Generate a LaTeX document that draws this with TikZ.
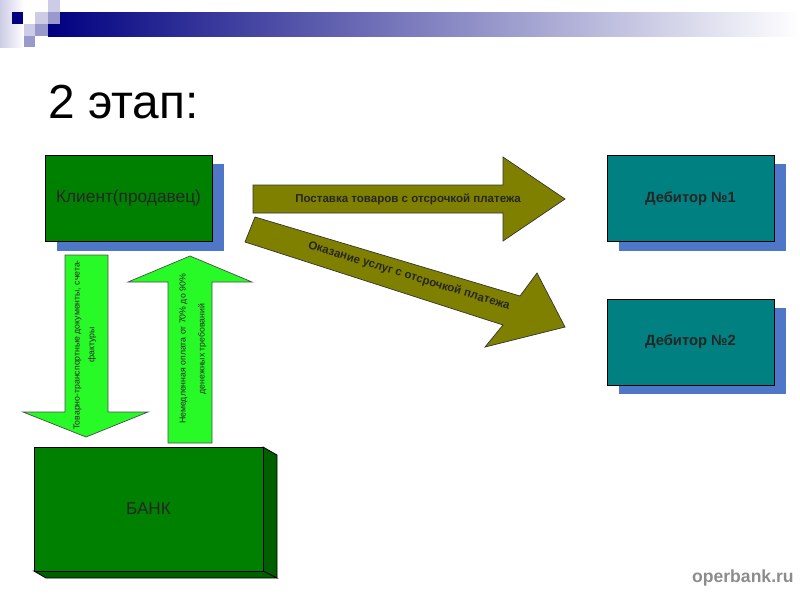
\documentclass[tikz,border=0pt]{standalone}
\usepackage{fontspec}
\setmainfont{Liberation Sans}
\definecolor{navybar}{RGB}{0,0,128}
\definecolor{lavender}{RGB}{204,204,230}
\definecolor{midlav}{RGB}{153,153,204}
\definecolor{slidegreen}{RGB}{0,128,0}
\definecolor{bankside}{RGB}{0,96,0}
\definecolor{shadowblue}{RGB}{79,119,199}
\definecolor{debteal}{RGB}{0,128,128}
\definecolor{flowolive}{RGB}{128,128,0}
\definecolor{limegreen}{RGB}{40,250,40}
\usetikzlibrary{shadows}

\tikzset{
  partybox/.style={draw=black, line width=0.6pt, minimum width=4.175cm, minimum height=2.15cm,
    inner sep=0pt, text=black!85,
    drop shadow={shadow xshift=0.3cm, shadow yshift=-0.225cm, fill=shadowblue, opacity=1}},
  clientbox/.style={partybox, fill=slidegreen, font=\fontsize{12.3}{14}\selectfont},
  debtorbox/.style={partybox, fill=debteal, font=\fontsize{10.5}{12}\selectfont\bfseries},
  bankbox/.style={draw=black, line width=0.6pt, fill=slidegreen, minimum width=5.725cm,
    minimum height=3.1cm, inner sep=0pt, text=black!85, font=\fontsize{12.2}{14}\selectfont},
  flowarrow/.style={fill=flowolive, draw=black!80, line width=0.5pt},
  docarrow/.style={fill=limegreen, draw=black!70, line width=0.5pt},
  arrowtext/.style={font=\fontsize{8.2}{10}\selectfont\bfseries, text=black!85, inner sep=0pt},
  doctext/.style={font=\fontsize{6.2}{10.5}\selectfont, text=black!85, align=center, rotate=90, inner sep=0pt},
}

\begin{document}
\begin{tikzpicture}[x=0.025cm, y=-0.025cm]
\useasboundingbox (0,0) rectangle (800,600);

% --- Header band ---
\shade[left color=lavender, right color=white] (0,0) rectangle (24,47);
\shade[left color=navybar, right color=white] (48,12) rectangle (800,36);
\fill[navybar] (12,12) rectangle (23,24);
\fill[lavender] (35,12) rectangle (48,24);
\fill[lavender] (48,0) rectangle (60,12);
\fill[midlav] (48,12) rectangle (60,24);
\fill[midlav] (35,24) rectangle (48,36);
\fill[lavender] (24,24) rectangle (35,36);
\fill[midlav] (24,36) rectangle (35,47);

% --- Title ---
\node[font=\fontsize{34}{40}\selectfont, anchor=base west, inner sep=0pt] (title) at (48,118) {2 этап:};

% --- Parties ---
\node[clientbox] (client) at (128.5,198.5) {Клиент(продавец)};
\node[debtorbox] (debtor1) at (690.5,198.5) {Дебитор №1};
\node[debtorbox] (debtor2) at (690.5,342) {Дебитор №2};

% --- Bank (box with depth) ---
\filldraw[bankside, draw=black, line width=0.6pt] (263,447) -- (277,455) -- (277,578) -- (263,571) -- cycle;
\filldraw[bankside, draw=black, line width=0.6pt] (34,571) -- (263,571) -- (277,578) -- (46,578) -- cycle;
\node[bankbox] (bank) at (148.5,509) {БАНК};

% --- Deferred deliveries to debtors ---
\draw[flowarrow] (253,185) -- (503,185) -- (503,157) -- (565,199) -- (503,241) -- (503,213) -- (253,213) -- cycle;
\node[arrowtext] (supply) at (408,199) {Поставка товаров с отсрочкой платежа};

\draw[flowarrow] (255,217) -- (520,296) -- (537,273) -- (565,327) -- (485,347) -- (503,325) -- (245,242) -- cycle;
\node[arrowtext, rotate=-17] (service) at (409,276) {Оказание услуг с отсрочкой платежа};

% --- Client <-> bank ---
\draw[docarrow] (65,255) -- (108,255) -- (108,412) -- (148,412) -- (86,437) -- (23,412) -- (65,412) -- cycle;
\node[doctext] (docs) at (85,345) {Товарно-транспортные документы, счета-\\фактуры};

\draw[docarrow] (168,443) -- (212,443) -- (212,282) -- (252,282) -- (190,256) -- (128,282) -- (168,282) -- cycle;
\node[doctext] (payment) at (193,349) {Немедленная оплата от 70\% до 90\%\\[3pt]денежных требований};

% --- Footer ---
\node[font=\fontsize{12.5}{14}\selectfont\bfseries, text=black!45, anchor=east, inner sep=0pt] (site) at (794,578) {operbank.ru};

\end{tikzpicture}
\end{document}
